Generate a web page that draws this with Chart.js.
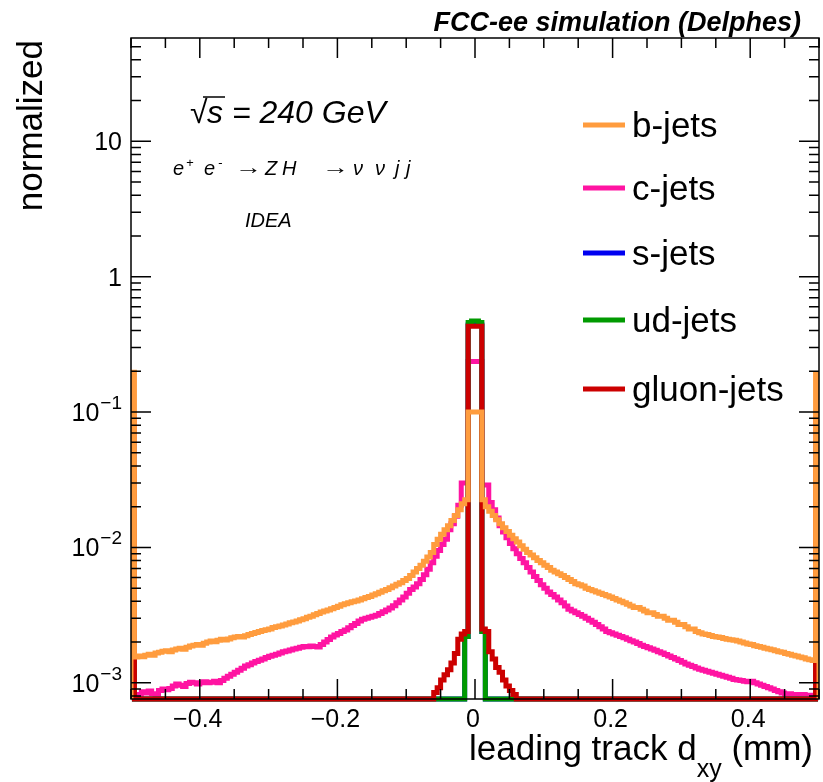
<!DOCTYPE html>
<html>
<head>
<meta charset="utf-8">
<script src="https://cdn.jsdelivr.net/npm/chart.js@4.4.1/dist/chart.umd.min.js"></script>
<style>
  html, body { margin: 0; padding: 0; background: #fff; }
  #chartContainer { display: block; }
</style>
</head>
<body>
<canvas id="chartContainer" width="823" height="782"></canvas>
<script>
// Histogram binning: 200 bins of 0.005 mm between -0.5 and 0.5
const binLow = -0.5;
const binWidth = 0.005;
const nBins = 200;

// Axis ranges
const yMin = 7.6e-4;
const yMax = 58;

const seriesNames = ["b-jets", "c-jets", "s-jets", "ud-jets", "gluon-jets"];
const seriesColors = ["#ff9c3e", "#ff14a2", "#0000f0", "#009a00", "#cc0000"];

const xTickLabels = [-0.4, -0.2, 0, 0.2, 0.4];
const yTickLabels = [10, 1, 0.1, 0.01, 0.001];

// b-jets, bins from -0.5 to 0 and from 0 to 0.5
const bJetsLeft = [
  0.197, 0.00155, 0.00158, 0.00156, 0.0016, 0.00163, 0.0016, 0.00166, 0.00168, 0.00171,
  0.00173, 0.0017, 0.00175, 0.00178, 0.0018, 0.00177, 0.00183, 0.00187, 0.0019, 0.00192,
  0.0019, 0.00196, 0.002, 0.00204, 0.00201, 0.00206, 0.0021, 0.00207, 0.00211, 0.00215,
  0.00218, 0.0022, 0.00218, 0.00223, 0.00228, 0.00232, 0.00236, 0.0024, 0.00244, 0.00247,
  0.0025, 0.00256, 0.0026, 0.00263, 0.00268, 0.00272, 0.00278, 0.00282, 0.00287, 0.00293,
  0.00298, 0.00305, 0.0031, 0.00318, 0.00325, 0.00334, 0.0034, 0.00345, 0.00352, 0.0036,
  0.00368, 0.00378, 0.00384, 0.0039, 0.00397, 0.00403, 0.0041, 0.00418, 0.00428, 0.00435,
  0.00445, 0.00455, 0.00468, 0.0048, 0.0049, 0.00505, 0.0052, 0.00535, 0.0055, 0.0057,
  0.0059, 0.0062, 0.0066, 0.007, 0.0074, 0.0079, 0.0085, 0.0092, 0.0105, 0.0115,
  0.0125, 0.0135, 0.0145, 0.0158, 0.0172, 0.019, 0.021, 0.0225, 0.1, 0.1
];
const bJetsRight = [
  0.1, 0.1, 0.0225, 0.02, 0.0185, 0.0172, 0.016, 0.015, 0.014, 0.0131,
  0.0123, 0.0116, 0.011, 0.0103, 0.0097, 0.0092, 0.0088, 0.0084, 0.008, 0.0077,
  0.0074, 0.0071, 0.0068, 0.0066, 0.0064, 0.0062, 0.006, 0.0058, 0.0056, 0.0054,
  0.0053, 0.0052, 0.005, 0.0049, 0.0048, 0.0047, 0.0046, 0.0045, 0.0044, 0.0043,
  0.0042, 0.0041, 0.004, 0.0039, 0.0038, 0.0037, 0.0036, 0.0036, 0.0035, 0.0034,
  0.0033, 0.0033, 0.0032, 0.0031, 0.0031, 0.003, 0.0029, 0.0029, 0.0028, 0.0027,
  0.0027, 0.0026, 0.0025, 0.0025, 0.0024, 0.00235, 0.0023, 0.00228, 0.00224, 0.0022,
  0.00218, 0.00216, 0.00213, 0.0021, 0.00208, 0.00206, 0.00204, 0.002, 0.00197, 0.00194,
  0.00192, 0.00188, 0.00186, 0.00183, 0.0018, 0.00178, 0.00176, 0.00173, 0.0017, 0.00168,
  0.00165, 0.00163, 0.0016, 0.00158, 0.00155, 0.00153, 0.0015, 0.00148, 0.00146, 0.19
];

// c-jets
const cJetsLeft = [
  0.092, 0.00082, 0.00078, 0.00086, 0.00084, 0.00087, 0.00083, 0.00077, 0.00088, 0.0009,
  0.00089, 0.00091, 0.00095, 0.00098, 0.00096, 0.00094, 0.00099, 0.00101, 0.001, 0.00098,
  0.001, 0.00102, 0.001, 0.00101, 0.00103, 0.001, 0.00104, 0.00108, 0.00112, 0.00116,
  0.0012, 0.00124, 0.00128, 0.00133, 0.00136, 0.0014, 0.00144, 0.00147, 0.0015, 0.00154,
  0.00157, 0.0016, 0.00163, 0.00166, 0.0017, 0.00172, 0.00175, 0.00178, 0.0018, 0.00183,
  0.00186, 0.00185, 0.00187, 0.00186, 0.00184, 0.00192, 0.002, 0.00209, 0.00218, 0.00226,
  0.00232, 0.0024, 0.00246, 0.00255, 0.00265, 0.00275, 0.00286, 0.00295, 0.003, 0.00305,
  0.0031, 0.00316, 0.00325, 0.00335, 0.00345, 0.00358, 0.00372, 0.0039, 0.0041, 0.0043,
  0.0046, 0.0049, 0.0051, 0.0054, 0.0058, 0.0063, 0.0069, 0.0077, 0.0086, 0.0095,
  0.0105, 0.0115, 0.0135, 0.015, 0.017, 0.0205, 0.03, 0.03, 0.236, 0.236
];
const cJetsRight = [
  0.236, 0.236, 0.029, 0.029, 0.0215, 0.019, 0.0165, 0.0145, 0.013, 0.0118,
  0.0107, 0.0098, 0.009, 0.0083, 0.0077, 0.0071, 0.0066, 0.0061, 0.0057, 0.0053,
  0.005, 0.0047, 0.0045, 0.0043, 0.0041, 0.0039, 0.0037, 0.0035, 0.0034, 0.0033,
  0.0032, 0.0031, 0.003, 0.0029, 0.0028, 0.0027, 0.0026, 0.0025, 0.0024, 0.00235,
  0.0023, 0.00225, 0.0022, 0.00215, 0.0021, 0.00205, 0.002, 0.00195, 0.0019, 0.00186,
  0.00182, 0.00178, 0.00174, 0.0017, 0.00166, 0.00162, 0.00158, 0.00154, 0.0015, 0.00146,
  0.00142, 0.00138, 0.00135, 0.00132, 0.00129, 0.00126, 0.00124, 0.00122, 0.0012, 0.00118,
  0.00116, 0.00114, 0.00112, 0.0011, 0.00108, 0.00106, 0.00105, 0.00104, 0.00103, 0.00102,
  0.00103, 0.001, 0.00098, 0.00096, 0.00094, 0.00092, 0.0009, 0.00088, 0.00086, 0.00084,
  0.00082, 0.00083, 0.00081, 0.00082, 0.0008, 0.00082, 0.00079, 0.00081, 0.0008, 0.09
];

// light and gluon jets: only the core (-0.06 .. 0.06) and the two edge bins are filled
const coreFirstBin = 88;
const sJetsCore = [
  0, 0, 0, 0, 0, 0, 0, 0, 0, 0.0022,
  0.44, 0.44, 0.44, 0.44,
  0.0024, 0, 0, 0, 0, 0, 0, 0, 0, 0
];
const udJetsCore = [
  0, 0, 0, 0, 0, 0, 0, 0, 0, 0.0022,
  0.46, 0.47, 0.47, 0.46,
  0.0024, 0, 0, 0, 0, 0, 0, 0, 0, 0
];
const gluonJetsCore = [
  0.00085, 0.00092, 0.00105, 0.00115, 0.00125, 0.0014, 0.00165, 0.0021, 0.0023, 0.0024,
  0.43, 0.43, 0.43, 0.43,
  0.0025, 0.0024, 0.0017, 0.0015, 0.0013, 0.0012, 0.00105, 0.00095, 0.00088, 0.00082
];
const sJetsEdges = [0.058, 0.057];
const udJetsEdges = [0.027, 0.026];
const gluonJetsEdges = [0.038, 0.037];

function fromCore(core, edges) {
  const arr = new Array(nBins).fill(0);
  core.forEach((v, i) => { arr[coreFirstBin + i] = v; });
  arr[0] = edges[0];
  arr[nBins - 1] = edges[1];
  return arr;
}

const seriesValues = [
  bJetsLeft.concat(bJetsRight),
  cJetsLeft.concat(cJetsRight),
  fromCore(sJetsCore, sJetsEdges),
  fromCore(udJetsCore, udJetsEdges),
  fromCore(gluonJetsCore, gluonJetsEdges)
];
// draw order like the original: b-jets on top, then gluon, ud, s, c
const drawOrder = [0, 4, 3, 2, 1];

// histogram outline as step points at the low edge of each bin
function histPoints(values) {
  const pts = [{ x: binLow, y: yMin }];
  values.forEach((v, k) => {
    pts.push({ x: binLow + k * binWidth, y: v > 0 ? v : yMin });
  });
  const last = values[values.length - 1];
  const xHigh = binLow + nBins * binWidth;
  pts.push({ x: xHigh, y: last > 0 ? last : yMin });
  pts.push({ x: xHigh, y: yMin });
  return pts;
}

const datasets = seriesNames.map((name, i) => ({
  label: name,
  data: histPoints(seriesValues[i]),
  borderColor: seriesColors[i],
  backgroundColor: seriesColors[i],
  borderWidth: 5,
  stepped: true,
  fill: false,
  pointRadius: 0,
  borderJoinStyle: "miter",
  clip: { left: 0, top: 0, right: 0, bottom: 3 },
  order: drawOrder[i]
}));

const FONT = '"Liberation Sans", Arial, Helvetica, sans-serif';

// frame, inward ticks, labels, legend and text, ROOT style
const rootStyle = {
  id: "rootStyle",
  afterDraw(chart) {
    const ctx = chart.ctx;
    const a = chart.chartArea;
    const x = chart.scales.x;
    const y = chart.scales.y;
    ctx.save();

    ctx.strokeStyle = "#000";
    ctx.lineWidth = 1.5;
    ctx.strokeRect(a.left, a.top, a.right - a.left, a.bottom - a.top);

    ctx.beginPath();
    for (let i = -10; i <= 10; i++) {
      const px = x.getPixelForValue(i * 0.05);
      const len = i % 4 === 0 ? 20 : 10;
      ctx.moveTo(px, a.bottom); ctx.lineTo(px, a.bottom - len);
      ctx.moveTo(px, a.top); ctx.lineTo(px, a.top + len);
    }
    for (let e = -4; e <= 1; e++) {
      for (let m = 1; m <= 9; m++) {
        const v = m * Math.pow(10, e);
        if (v < yMin || v > yMax) continue;
        const py = y.getPixelForValue(v);
        const len = m === 1 ? 20 : 10;
        ctx.moveTo(a.left, py); ctx.lineTo(a.left + len, py);
        ctx.moveTo(a.right, py); ctx.lineTo(a.right - len, py);
      }
    }
    ctx.stroke();

    // x tick labels
    ctx.fillStyle = "#000";
    ctx.font = "25px " + FONT;
    ctx.textAlign = "center";
    ctx.textBaseline = "alphabetic";
    xTickLabels.forEach(v => {
      const txt = v < 0 ? "\u2212" + Math.abs(v) : String(v);
      ctx.fillText(txt, x.getPixelForValue(v) - 2, a.bottom + 28);
    });

    // y tick labels
    const labRight = a.left - 9;
    yTickLabels.forEach(v => {
      const py = y.getPixelForValue(v);
      const e = Math.round(Math.log10(v));
      ctx.textAlign = "right";
      if (e >= 0) {
        ctx.font = "25px " + FONT;
        ctx.fillText(String(v), labRight, py + 9);
      } else {
        ctx.font = "19px " + FONT;
        const sup = "\u2212" + Math.abs(e);
        const w = ctx.measureText(sup).width;
        ctx.fillText(sup, labRight, py - 3);
        ctx.font = "25px " + FONT;
        ctx.fillText("10", labRight - w - 1, py + 9);
      }
    });

    // axis titles
    ctx.font = "35px " + FONT;
    ctx.textAlign = "left";
    const t1 = "leading track d";
    const t2 = "xy";
    const t3 = " (mm)";
    const w1 = ctx.measureText(t1).width;
    const w3 = ctx.measureText(t3).width;
    ctx.font = "25px " + FONT;
    const w2 = ctx.measureText(t2).width;
    const tx = 813 - (w1 + w2 + w3);
    ctx.font = "35px " + FONT;
    ctx.fillText(t1, tx, 760);
    ctx.font = "25px " + FONT;
    ctx.fillText(t2, tx + w1, 777);
    ctx.font = "35px " + FONT;
    ctx.fillText(t3, tx + w1 + w2, 760);

    ctx.save();
    ctx.translate(42, a.top + 2);
    ctx.rotate(-Math.PI / 2);
    ctx.font = "35px " + FONT;
    ctx.textAlign = "right";
    ctx.fillText("normalized", 0, 0);
    ctx.restore();

    // title
    ctx.font = "italic bold 27px " + FONT;
    ctx.textAlign = "right";
    ctx.fillText("FCC-ee simulation (Delphes)", 801, 31);

    // sqrt(s) label
    ctx.textAlign = "left";
    ctx.font = "32px " + FONT;
    ctx.fillText("\u221A", 190, 123);
    ctx.font = "italic 32px " + FONT;
    ctx.fillText("s = 240 GeV", 207, 123);
    ctx.beginPath();
    ctx.lineWidth = 1.5;
    ctx.moveTo(203, 97); ctx.lineTo(225, 97);
    ctx.stroke();

    // process label, pieces placed like the original
    const base = 175;
    const pieces = [
      ["e", 173, 0, 20], ["+", 186, -8, 13], ["e", 204, 0, 20], ["-", 218, -8, 13],
      ["Z", 265, 0, 20], ["H", 282, 0, 20],
      ["\u03BD", 353, 0, 20], ["\u03BD", 375, 0, 20], ["j", 395, 0, 20], ["j", 406, 0, 20]
    ];
    pieces.forEach(([s, px, dy, size]) => {
      ctx.font = "italic " + size + "px " + FONT;
      ctx.fillText(s, px, base + dy);
    });
    [235, 322].forEach(ax => {
      ctx.font = "20px " + FONT;
      const aw = ctx.measureText("\u2192").width;
      ctx.save();
      ctx.translate(ax, base - 1);
      ctx.scale(27 / aw, 1);
      ctx.fillText("\u2192", 0, 0);
      ctx.restore();
    });

    ctx.font = "italic 20px " + FONT;
    ctx.fillText("IDEA", 245, 227);

    // legend
    const rows = [127, 190, 255, 322, 391];
    seriesNames.forEach((name, i) => {
      ctx.strokeStyle = seriesColors[i];
      ctx.lineWidth = 5;
      ctx.beginPath();
      ctx.moveTo(583, rows[i] - 2);
      ctx.lineTo(625, rows[i] - 2);
      ctx.stroke();
      ctx.fillStyle = "#000";
      ctx.font = "35px " + FONT;
      ctx.textBaseline = "middle";
      ctx.fillText(name, 632, rows[i]);
    });

    ctx.restore();
  }
};

const chartCanvas = document.getElementById("chartContainer");
const chart = new Chart(chartCanvas, {
  type: "line",
  data: { datasets: datasets },
  options: {
    responsive: false,
    animation: false,
    layout: { padding: { left: 131, top: 38, right: 4, bottom: 83 } },
    scales: {
      x: { type: "linear", min: -0.5, max: 0.5, display: false },
      y: { type: "logarithmic", min: yMin, max: yMax, display: false }
    },
    plugins: {
      legend: { display: false },
      tooltip: { enabled: false }
    },
    elements: { line: { tension: 0 } }
  },
  plugins: [rootStyle]
});
</script>
</body>
</html>
